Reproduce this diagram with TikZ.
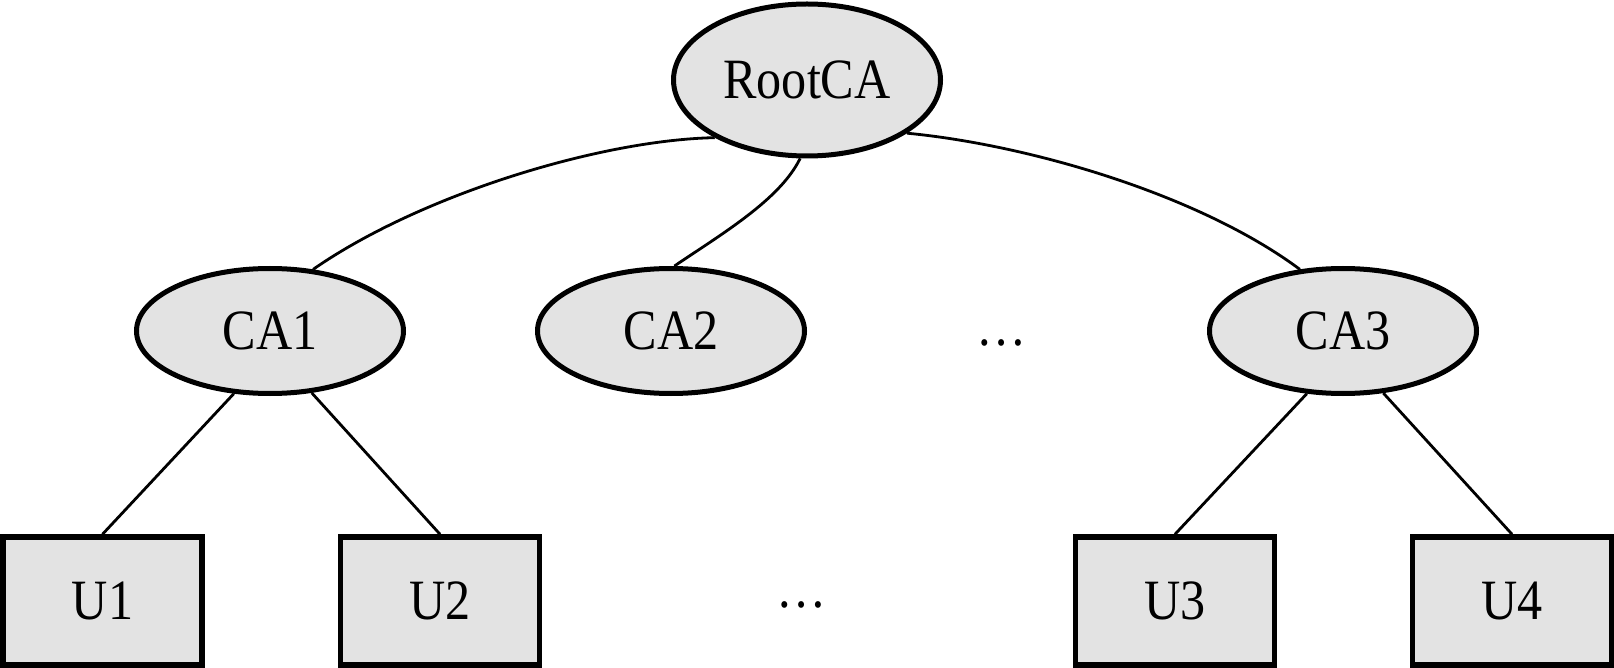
\documentclass[tikz,border=0pt]{standalone}
\usepackage{fontspec}
\setmainfont{Liberation Serif}[FakeStretch=0.88]
\usetikzlibrary{shapes.geometric}
\definecolor{nodefill}{RGB}{227,227,227}
\begin{document}
\begin{tikzpicture}[x=1pt,y=-1pt,
  every node/.style={font=\fontsize{57}{60}\selectfont},
  caell/.style={ellipse,draw,fill=nodefill,line width=5pt,inner sep=0pt,minimum width=267pt,minimum height=125pt},
  rootell/.style={caell,minimum height=152pt},
  userbox/.style={rectangle,draw,fill=nodefill,line width=5.5pt,inner sep=0pt,minimum width=199pt,minimum height=128pt},
  link/.style={line width=2.8pt}]
\useasboundingbox (0,0) rectangle (1614,668);
\node[rootell] (root) at (807,80) {RootCA};
\node[caell] (ca1) at (270,331) {CA1};
\node[caell] (ca2) at (671,331) {CA2};
\node[caell] (ca3) at (1343,331) {CA3};
\node (dotsa) at (1002,343) {…};
\node[userbox] (u1) at (102.5,601) {U1};
\node[userbox] (u2) at (440,601) {U2};
\node[userbox] (u3) at (1175,601) {U3};
\node[userbox] (u4) at (1512,601) {U4};
\node (dotsb) at (802,605) {…};
\draw[link] (root.212) .. controls (600,140) and (420,195) .. (ca1.55);
\draw[link] (root.265) .. controls (780,200) and (720,235) .. (ca2.87);
\draw[link] (root.332) .. controls (1030,145) and (1200,195) .. (ca3.125);
\draw[link] (ca1.240) -- (u1.north);
\draw[link] (ca1.304) -- (u2.north);
\draw[link] (ca3.240) -- (u3.north);
\draw[link] (ca3.303) -- (u4.north);
\end{tikzpicture}
\end{document}
